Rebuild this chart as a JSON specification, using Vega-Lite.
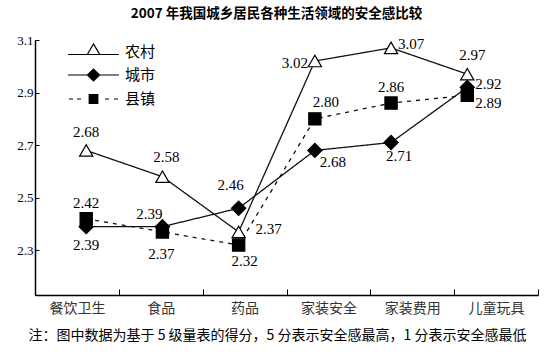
{
  "$schema": "https://vega.github.io/schema/vega-lite/v6.json",
  "width": 503,
  "height": 255,
  "autosize": "none",
  "padding": {"left": 35, "top": 40, "right": 15, "bottom": 59},
  "background": "white",
  "config": {"view": {"stroke": null}, "font": "Noto Sans CJK SC"},
  "title": {"text": "2007 年我国城乡居民各种生活领域的安全感比较", "fontSize": 13.5, "fontWeight": "bold", "font": "Noto Sans CJK SC", "anchor": "middle", "dx": -10, "offset": 14, "color": "black"},
  "data": {"values": [
    {"cat": "餐饮卫生", "series": "农村", "v": 2.68},
    {"cat": "食品", "series": "农村", "v": 2.58},
    {"cat": "药品", "series": "农村", "v": 2.37},
    {"cat": "家装安全", "series": "农村", "v": 3.02},
    {"cat": "家装费用", "series": "农村", "v": 3.07},
    {"cat": "儿童玩具", "series": "农村", "v": 2.97},
    {"cat": "餐饮卫生", "series": "城市", "v": 2.39},
    {"cat": "食品", "series": "城市", "v": 2.39},
    {"cat": "药品", "series": "城市", "v": 2.46},
    {"cat": "家装安全", "series": "城市", "v": 2.68},
    {"cat": "家装费用", "series": "城市", "v": 2.71},
    {"cat": "儿童玩具", "series": "城市", "v": 2.92},
    {"cat": "餐饮卫生", "series": "县镇", "v": 2.42},
    {"cat": "食品", "series": "县镇", "v": 2.37},
    {"cat": "药品", "series": "县镇", "v": 2.32},
    {"cat": "家装安全", "series": "县镇", "v": 2.80},
    {"cat": "家装费用", "series": "县镇", "v": 2.86},
    {"cat": "儿童玩具", "series": "县镇", "v": 2.89}
  ]},
  "encoding": {
    "y": {"field": "v", "type": "quantitative", "scale": {"domain": [2.13, 3.1], "nice": false, "zero": false},
      "axis": {"values": [2.3, 2.5, 2.7, 2.9, 3.1], "format": ".1f", "title": null, "grid": false, "tickSize": -4, "tickColor": "black", "domainColor": "black", "domainWidth": 1.5, "labelFont": "Liberation Serif", "labelFontSize": 13, "labelColor": "black", "labelPadding": 6}}
  },
  "layer": [
    {
      "mark": {"type": "tick", "opacity": 0},
      "encoding": {
        "x": {"field": "cat", "type": "nominal", "sort": ["餐饮卫生", "食品", "药品", "家装安全", "家装费用", "儿童玩具"],
          "scale": {"type": "band", "paddingInner": 0, "paddingOuter": 0},
          "axis": {"title": "注：图中数据为基于 5 级量表的得分，5 分表示安全感最高，1 分表示安全感最低", "titleFont": "Noto Sans CJK SC", "titleFontSize": 14, "titleFontWeight": "normal", "titleColor": "black", "titleX": 242, "titleY": 40, "titleBaseline": "middle", "titleAlign": "center",
            "labelAngle": 0, "labelFontSize": 14, "labelColor": "#333", "labelPadding": 12, "tickBand": "extent", "tickSize": -6, "tickColor": "black", "domainColor": "black", "domainWidth": 1.5, "grid": false}}
      }
    },
    {
      "mark": {"type": "point", "filled": true, "opacity": 0},
      "encoding": {
        "x": {"field": "cat", "type": "nominal", "sort": ["餐饮卫生", "食品", "药品", "家装安全", "家装费用", "儿童玩具"], "scale": {"type": "point", "padding": 0.8, "align": 0.42}, "axis": null},
        "shape": {"field": "series", "type": "nominal", "scale": {"domain": ["农村", "城市", "县镇"], "range": [
            "M-2.55,0.25H-0.62M0.62,0.25H2.55M-0.62,0.25L0,-0.8L0.62,0.25Z",
            "M-2.55,0H2.55M-0.6,0L0,-0.6L0.6,0L0,0.6Z",
            "M-2.45,0H-2.05M-1.65,0H-1.25M1.15,0H1.55M2.05,0H2.45M-0.43,-0.43H0.43V0.43H-0.43Z"]},
          "legend": {"title": null, "orient": "none", "legendX": 47.5, "legendY": 1, "symbolSize": 400, "symbolOpacity": 1, "labelFontSize": 15, "labelFont": "Noto Sans CJK SC", "labelColor": "black", "labelOffset": 20.5, "rowPadding": 4, "padding": 0, "symbolStrokeWidth": 1.2}},
        "fill": {"field": "series", "type": "nominal", "scale": {"domain": ["农村", "城市", "县镇"], "range": ["white", "black", "black"]},
          "legend": {"title": null, "orient": "none", "legendX": 47.5, "legendY": 1, "symbolSize": 400, "symbolOpacity": 1, "labelFontSize": 15, "labelFont": "Noto Sans CJK SC", "labelColor": "black", "labelOffset": 20.5, "rowPadding": 4, "padding": 0, "symbolStrokeWidth": 1.2}},
        "stroke": {"field": "series", "type": "nominal", "scale": {"domain": ["农村", "城市", "县镇"], "range": ["black", "black", "black"]},
          "legend": {"title": null, "orient": "none", "legendX": 47.5, "legendY": 1, "symbolSize": 400, "symbolOpacity": 1, "labelFontSize": 15, "labelFont": "Noto Sans CJK SC", "labelColor": "black", "labelOffset": 20.5, "rowPadding": 4, "padding": 0, "symbolStrokeWidth": 1.2}}
      }
    },
    {
      "mark": {"type": "line", "color": "#111", "strokeWidth": 1.3},
      "encoding": {
        "x": {"field": "cat", "type": "nominal", "sort": ["餐饮卫生", "食品", "药品", "家装安全", "家装费用", "儿童玩具"], "scale": {"type": "point", "padding": 0.8, "align": 0.42}, "axis": null},
        "strokeDash": {"field": "series", "type": "nominal", "scale": {"domain": ["县镇", "城市", "农村"], "range": [[4, 5], [1, 0], [1, 0]]}, "legend": null}
      }
    },
    {
      "mark": {"type": "point", "filled": true, "stroke": "black", "strokeWidth": 1.2, "opacity": 1},
      "encoding": {
        "x": {"field": "cat", "type": "nominal", "sort": ["餐饮卫生", "食品", "药品", "家装安全", "家装费用", "儿童玩具"], "scale": {"type": "point", "padding": 0.8, "align": 0.42}, "axis": null},
        "shape": {"field": "series", "type": "nominal", "scale": {"domain": ["城市", "农村", "县镇"], "range": ["diamond", "triangle-up", "square"]}, "legend": null},
        "fill": {"field": "series", "type": "nominal", "scale": {"domain": ["城市", "县镇", "农村"], "range": ["black", "black", "white"]}, "legend": null},
        "size": {"field": "series", "type": "nominal", "scale": {"domain": ["县镇", "农村", "城市"], "range": [150, 200, 190]}, "legend": null}
      }
    },
    {
      "mark": {"type": "text", "font": "Liberation Serif", "fontSize": 15, "color": "black", "align": "center", "baseline": "middle",
        "dx": {"expr": "({'农村餐饮卫生':0,'农村食品':4,'农村药品':30,'农村家装安全':-20,'农村家装费用':20,'农村儿童玩具':5,'城市餐饮卫生':0,'城市食品':-13,'城市药品':-8,'城市家装安全':18,'城市家装费用':8,'城市儿童玩具':21,'县镇餐饮卫生':0,'县镇食品':-1,'县镇药品':6,'县镇家装安全':11,'县镇家装费用':0,'县镇儿童玩具':21})[datum.series + datum.cat]"},
        "dy": {"expr": "({'农村餐饮卫生':-18,'农村食品':-20,'农村药品':-3,'农村家装安全':2,'农村家装费用':-4,'农村儿童玩具':-19,'城市餐饮卫生':18,'城市食品':-13,'城市药品':-23,'城市家装安全':12,'城市家装费用':13,'城市儿童玩具':-3,'县镇餐饮卫生':-16,'县镇食品':22,'县镇药品':16,'县镇家装安全':-17,'县镇家装费用':-16,'县镇儿童玩具':8})[datum.series + datum.cat]"}},
      "encoding": {
        "x": {"field": "cat", "type": "nominal", "sort": ["餐饮卫生", "食品", "药品", "家装安全", "家装费用", "儿童玩具"], "scale": {"type": "point", "padding": 0.8, "align": 0.42}, "axis": null},
        "text": {"field": "v", "type": "quantitative", "format": ".2f"}
      }
    }
  ],
  "resolve": {"scale": {"x": "independent", "shape": "independent", "fill": "independent", "stroke": "independent", "size": "independent"}}
}
